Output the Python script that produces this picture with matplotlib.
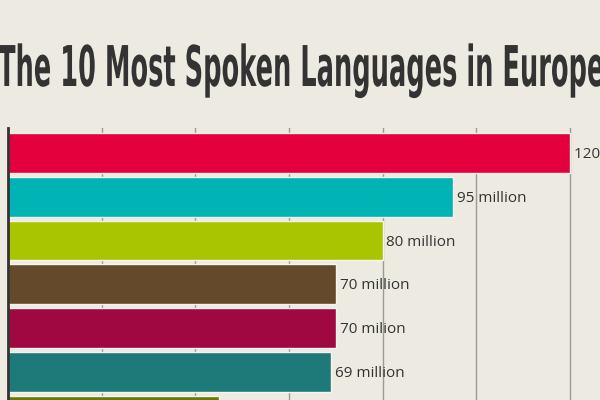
import matplotlib
matplotlib.use("Agg")
import matplotlib.pyplot as plt
from matplotlib import patheffects
from matplotlib.transforms import Affine2D

# data
values = [120, 95, 80, 70, 70, 69, 45]
labels = ["120 million", "95 million", "80 million", "70 million",
          "70 milion", "69 million", "45 million"]
colors = ["#e4003c", "#00b3b5", "#a9c500", "#644a2b",
          "#9f0840", "#1d7a79", "#667a08"]
grid_ticks = [20, 40, 60, 80, 100, 120]
title = "The 10 Most Spoken Languages in Europe"

bg = "#edebe1"


# stretch glyphs vertically around the baseline (condensed headline look)
class Stretch(patheffects.AbstractPathEffect):
    def __init__(self, sy):
        super().__init__()
        self.sy = sy

    def draw_path(self, renderer, gc, tpath, affine, rgbFace=None):
        renderer.draw_path(gc, tpath, Affine2D().scale(1, self.sy) + affine, rgbFace)


fig = plt.figure(figsize=(6, 4), dpi=100, facecolor=bg)

# axes from x=8px to right edge, y=128px to bottom
ax = fig.add_axes([8 / 600, 0, 592 / 600, 272 / 400])
ax.set_facecolor(bg)

y = list(range(len(values)))
ax.barh(y, values, height=0.91, color=colors, edgecolor="#f7f3ee",
        linewidth=1.0, zorder=2)

for yi, v, lab in zip(y, values, labels):
    ax.text(v + 0.8, yi + 0.04, lab, va="center", ha="left", fontsize=11,
            family=["Open Sans", "DejaVu Sans"], color="#333333", zorder=3)

ax.set_xlim(0, 592 / 4.683)
ax.set_ylim(5.646, -0.571)

for g in grid_ticks:
    ax.axvline(g, color="#9a9a96", linewidth=1.0, zorder=1)

for s in ["top", "right", "bottom"]:
    ax.spines[s].set_visible(False)
ax.spines["left"].set_color("#333333")
ax.spines["left"].set_linewidth(2)
ax.spines["left"].set_zorder(4)
ax.set_xticks([])
ax.set_yticks([])

# headline: fit the width (~606 px), then stretch to ~41 px cap height
t = fig.text(-2 / 600, 1 - 86 / 400, title, ha="left", va="baseline",
             fontsize=20, fontweight="bold", color="#333333",
             family="DejaVu Sans")
fig.canvas.draw()
w = t.get_window_extent().width
fs = 20 * 606 / w
t.set_fontsize(fs)
t.set_path_effects([Stretch(41 / (0.73 * fs * 100 / 72))])

fig.savefig("out.png", dpi=100, facecolor=bg)
